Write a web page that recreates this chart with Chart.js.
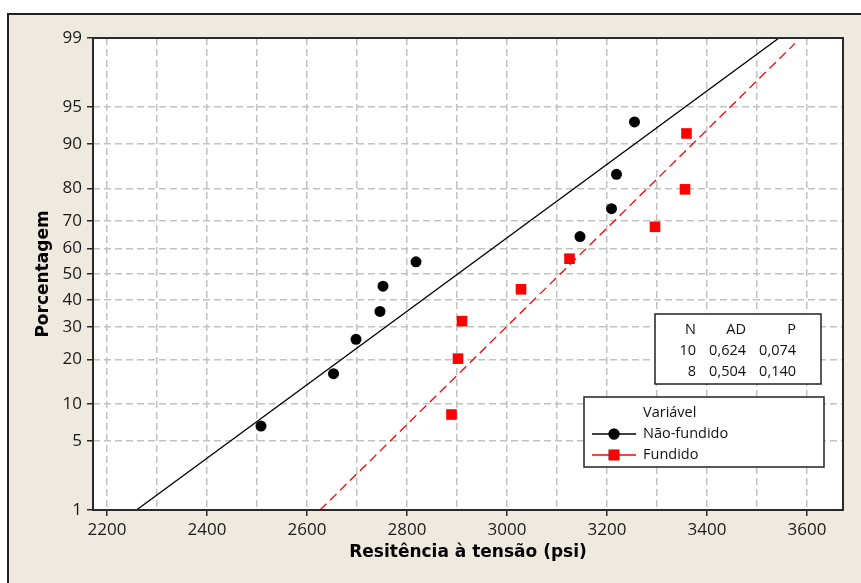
<!DOCTYPE html>
<html><head><meta charset="utf-8">
<script src="https://cdn.jsdelivr.net/npm/chart.js@4/dist/chart.umd.min.js"></script>
<style>html,body{margin:0;padding:0;background:#fff;} #wrap{position:relative;width:861px;height:583px;} canvas{display:block;}</style>
</head><body><div id="wrap"><canvas id="c" width="861" height="583"></canvas></div>
<script>
// ---- data ----
const seriesNames = ['Não-fundido', 'Fundido'];
const naoFundidoPsi = [2508, 2653, 2698, 2746, 2752, 2818, 3146, 3209, 3219, 3255];
const naoFundidoPct = [6.7, 16.3, 26.0, 35.6, 45.2, 54.8, 64.4, 74.0, 83.7, 93.3];
const fundidoPsi = [2889, 2902, 2910, 3028, 3125, 3296, 3356, 3359];
const fundidoPct = [8.3, 20.2, 32.1, 44.0, 56.0, 67.9, 79.8, 91.7];
// fitted normal lines (end points)
const naoFundidoFitPsi = [2259, 3544];
const naoFundidoFitPct = [1, 99];
const fundidoFitPsi = [2626, 3576];
const fundidoFitPct = [1, 98.85];
// axes
const xGridValues = [2200, 2300, 2400, 2500, 2600, 2700, 2800, 2900, 3000, 3100, 3200, 3300, 3400, 3500, 3600];
const xLabelValues = [2200, 2400, 2600, 2800, 3000, 3200, 3400, 3600];
const yTickPct = [1, 5, 10, 20, 30, 40, 50, 60, 70, 80, 90, 95, 99];
const yTickLabels = ['1', '5', '10', '20', '30', '40', '50', '60', '70', '80', '90', '95', '99'];
const xTitle = 'Resitência à tensão (psi)';
const yTitle = 'Porcentagem';
const legendTitle = 'Variável';
const statHeaders = ['N', 'AD', 'P'];
const statN = ['10', '8'];
const statAD = ['0,624', '0,504'];
const statP = ['0,074', '0,140'];

// inverse standard normal (probability-paper scale)
function probit(p) {
  const a=[-3.969683028665376e+01,2.209460984245205e+02,-2.759285104469687e+02,1.383577518672690e+02,-3.066479806614716e+01,2.506628277459239e+00];
  const b=[-5.447609879822406e+01,1.615858368580409e+02,-1.556989798598866e+02,6.680131188771082e+01,-1.328068155288572e+01];
  const c=[-7.784894002430293e-03,-3.223964580411365e-01,-2.400758277161838e+00,-2.549732539343734e+00,4.374664141464968e+00,2.938163982698783e+00];
  const d=[7.784695709041462e-03,3.224671290700398e-01,2.445134137142996e+00,3.754408661907416e+00];
  const pl=0.02425, ph=1-pl; let q, r;
  if (p < pl) { q=Math.sqrt(-2*Math.log(p)); return (((((c[0]*q+c[1])*q+c[2])*q+c[3])*q+c[4])*q+c[5])/((((d[0]*q+d[1])*q+d[2])*q+d[3])*q+1); }
  if (p > ph) { q=Math.sqrt(-2*Math.log(1-p)); return -(((((c[0]*q+c[1])*q+c[2])*q+c[3])*q+c[4])*q+c[5])/((((d[0]*q+d[1])*q+d[2])*q+d[3])*q+1); }
  q=p-0.5; r=q*q;
  return (((((a[0]*r+a[1])*r+a[2])*r+a[3])*r+a[4])*r+a[5])*q/(((((b[0]*r+b[1])*r+b[2])*r+b[3])*r+b[4])*r+1);
}
const zOf = pct => probit(pct / 100);
const pts = (xs, ps) => xs.map((x, i) => ({x: x, y: zOf(ps[i])}));

const BLACK = '#000000', RED = '#FF0000';
const TICK_FONT = {family: '"Open Sans", sans-serif', size: 17};
const TITLE_FONT = {family: '"DejaVu Sans", sans-serif', size: 17, weight: 'bold'};
const SMALL_FONT = '14.5px "Open Sans", sans-serif';

const deco = {
  id: 'deco',
  beforeDraw(chart) {
    const ctx = chart.ctx, W = chart.width, H = chart.height, a = chart.chartArea;
    ctx.save();
    ctx.fillStyle = '#ffffff'; ctx.fillRect(0, 0, W, H);
    ctx.fillStyle = '#EEEAE0'; ctx.fillRect(8, 14, W - 8, H - 14);
    ctx.strokeStyle = '#222'; ctx.lineWidth = 2;
    ctx.beginPath(); ctx.moveTo(8, H); ctx.lineTo(8, 14); ctx.lineTo(W, 14); ctx.stroke();
    ctx.fillStyle = '#ffffff'; ctx.fillRect(a.left, a.top, a.right - a.left, a.bottom - a.top);
    ctx.restore();
  },
  afterDraw(chart) {
    const ctx = chart.ctx, a = chart.chartArea;
    ctx.save();
    ctx.strokeStyle = '#2a2a2a'; ctx.lineWidth = 2;
    ctx.strokeRect(a.left, a.top, a.right - a.left, a.bottom - a.top);
    // statistics table
    ctx.fillStyle = '#fff'; ctx.fillRect(655, 314, 166, 70);
    ctx.lineWidth = 1.5; ctx.strokeStyle = '#222'; ctx.strokeRect(655, 314, 166, 70);
    ctx.font = SMALL_FONT; ctx.fillStyle = '#111'; ctx.textAlign = 'right'; ctx.textBaseline = 'middle';
    const colX = [696, 746, 796];
    statHeaders.forEach((h, i) => ctx.fillText(h, colX[i], 330));
    [statN, statAD, statP].forEach((col, ci) => col.forEach((v, ri) => ctx.fillText(v, colX[ci], 351 + ri * 21)));
    // legend
    ctx.fillStyle = '#fff'; ctx.fillRect(584, 397, 240, 70);
    ctx.strokeRect(584, 397, 240, 70);
    ctx.textAlign = 'left'; ctx.fillStyle = '#111';
    ctx.fillText(legendTitle, 643, 413);
    const ds = chart.data.datasets;
    [0, 1].forEach(i => {
      const y = 434 + i * 21;
      const line = ds[i + 2], pt = ds[i];
      ctx.strokeStyle = line.borderColor; ctx.lineWidth = 1.3; ctx.setLineDash([]);
      ctx.beginPath(); ctx.moveTo(592, y); ctx.lineTo(636, y); ctx.stroke();
      Chart.helpers.drawPoint(ctx, {pointStyle: pt.pointStyle, radius: pt.pointRadius, borderWidth: 0}, 614, y);
      ctx.fillStyle = pt.backgroundColor;
      ctx.beginPath();
      if (pt.pointStyle === 'circle') ctx.arc(614, y, pt.pointRadius, 0, Math.PI * 2);
      else { const s = pt.pointRadius * Math.SQRT1_2; ctx.rect(614 - s, y - s, 2 * s, 2 * s); }
      ctx.fill();
      ctx.fillStyle = '#111';
      ctx.fillText(seriesNames[i], 643, y);
    });
    ctx.restore();
  }
};

new Chart(document.getElementById('c'), {
  type: 'scatter',
  data: {
    datasets: [
      {label: seriesNames[0], data: pts(naoFundidoPsi, naoFundidoPct), pointStyle: 'circle', pointRadius: 5.5,
       backgroundColor: BLACK, borderColor: BLACK, pointBorderWidth: 0, order: 0},
      {label: seriesNames[1], data: pts(fundidoPsi, fundidoPct), pointStyle: 'rect', pointRadius: 7.5,
       backgroundColor: RED, borderColor: RED, pointBorderWidth: 0, order: 0},
      {label: seriesNames[0] + ' ajuste', data: pts(naoFundidoFitPsi, naoFundidoFitPct), type: 'line', showLine: true,
       borderColor: BLACK, borderWidth: 1.3, pointRadius: 0, fill: false, order: 1},
      {label: seriesNames[1] + ' ajuste', data: pts(fundidoFitPsi, fundidoFitPct), type: 'line', showLine: true,
       borderColor: RED, borderWidth: 1.3, borderDash: [9, 5], pointRadius: 0, fill: false, order: 1}
    ]
  },
  options: {
    responsive: false, animation: false, devicePixelRatio: 1,
    layout: {padding: {top: 38, right: 18, left: 0, bottom: 0}},
    plugins: {legend: {display: false}, tooltip: {enabled: false}},
    scales: {
      x: {
        type: 'linear', min: 2172, max: 3672,
        afterBuildTicks: s => { s.ticks = xGridValues.map(v => ({value: v})); },
        afterFit: s => { s.height = 73; },
        ticks: {autoSkip: false, maxRotation: 0, padding: 4, color: '#1a1a1a', font: TICK_FONT,
                callback: v => xLabelValues.includes(v) ? String(v) : ''},
        grid: {color: '#c2c2c2', lineWidth: 1.5, tickLength: 6, tickWidth: 1.5,
               tickColor: c => (c.tick && xLabelValues.includes(c.tick.value)) ? '#2a2a2a' : 'rgba(0,0,0,0)'},
        border: {display: false, dash: [7, 4]},
        title: {display: true, text: xTitle, color: '#000', font: TITLE_FONT, padding: {top: 0, bottom: 20}}
      },
      y: {
        type: 'linear', min: zOf(yTickPct[0]), max: zOf(yTickPct[yTickPct.length - 1]),
        afterBuildTicks: s => { s.ticks = yTickPct.map(p => ({value: zOf(p)})); },
        afterFit: s => { s.width = 93; },
        ticks: {autoSkip: false, padding: 5, color: '#1a1a1a', font: TICK_FONT,
                callback: (v, i) => yTickLabels[i]},
        grid: {lineWidth: 1.5, tickLength: 6, tickWidth: 1.5, tickColor: '#2a2a2a',
               color: c => (c.index === 0 || c.index === yTickPct.length - 1) ? 'rgba(0,0,0,0)' : '#c2c2c2'},
        border: {display: false, dash: [7, 4]},
        title: {display: true, text: yTitle, color: '#000', font: TITLE_FONT, padding: {top: 33, bottom: 0}}
      }
    }
  },
  plugins: [deco]
});
</script>
</body></html>
